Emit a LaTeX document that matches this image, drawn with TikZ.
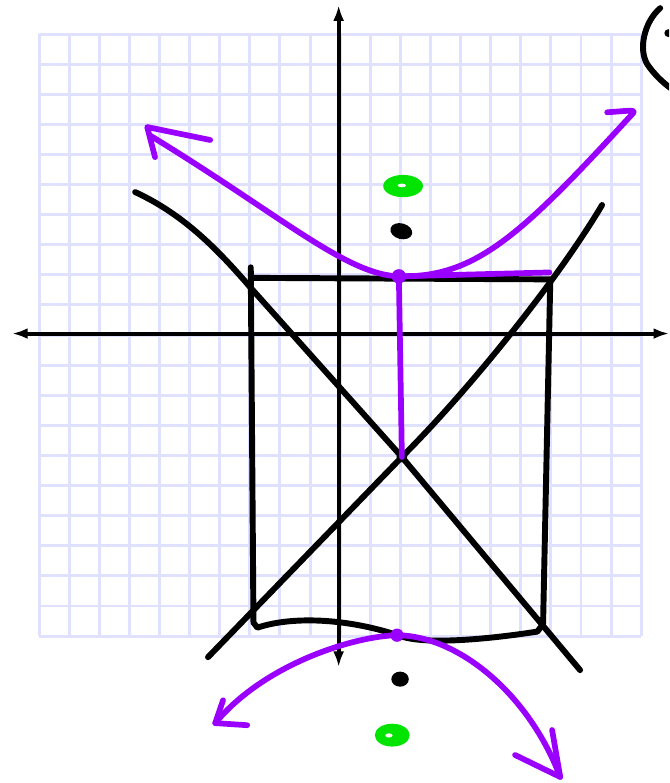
\documentclass[tikz,border=0pt]{standalone}
\usepackage{xcolor}
\usepackage{tikz}
\usetikzlibrary{arrows.meta}
\definecolor{gridlav}{RGB}{224,224,255}
\definecolor{branchviolet}{RGB}{153,0,255}
\definecolor{fociGreen}{RGB}{0,228,0}

\begin{document}
\begin{tikzpicture}[x=0.5cm, y=0.5cm, >=Latex,
  gridline/.style={gridlav, line width=1.4pt},
  axisline/.style={black, line width=1.9pt},
  ink/.style={black, line width=2.8pt, line cap=round, line join=round},
  branch/.style={branchviolet, line width=2.7pt, line cap=round, line join=round}]
\useasboundingbox (-11.30,-14.88) rectangle (10.93,11.13);
\clip (-11.30,-14.88) rectangle (10.93,11.13);
% --- Graph paper ---
\foreach \k in {-10,...,10} {
  \draw[gridline] (\k,-10) -- (\k,10);
  \draw[gridline] (-10,\k) -- (10,\k);
}
% --- Axes ---
\draw[axisline, {Latex[length=2.6mm,width=1.8mm]}-{Latex[length=2.6mm,width=1.8mm]}]
  (-10.90,0.05) -- (10.93,0.05);
\draw[axisline, {Latex[length=2.6mm,width=1.8mm]}-{Latex[length=2.6mm,width=1.8mm]}]
  (-0.05,-11.03) -- (-0.05,10.96);
% key points
\coordinate (ctr) at (2.05,-4.05);
\coordinate (vtop) at (1.95,1.95);
\coordinate (vbot) at (1.89,-9.97);
\coordinate (corner) at (6.95,2.08);
% --- Central box (hand drawn) ---
\draw[ink] (-2.97,2.25) -- (-2.88,-9.55) -- (-2.75,-9.72)
  .. controls (-1.5,-9.30) and (0.4,-9.45) .. (2.0,-10.0)
  .. controls (3.0,-10.35) and (5.6,-10.0) .. (6.55,-9.85)
  -- (6.74,-9.60) -- (6.98,1.85) -- (-2.97,1.90);
% --- Asymptotes ---
\draw[ink] (-6.81,4.75) .. controls (-5.3,4.05) and (-4.2,3.0) .. (-2.99,1.59)
  -- (ctr) -- (7.97,-11.13);
\draw[ink] (-4.39,-10.70) -- (ctr)
  .. controls (4.3,-1.80) and (7.2,1.80) .. (8.70,4.32);
\fill (ctr) circle (0.18);
% --- Upper branch ---
\draw[branch] (-6.30,6.62) .. controls (-2.0,4.0) and (0.2,2.0) .. (vtop)
  .. controls (4.5,1.9) and (6.0,3.3) .. (9.72,7.36)
  .. controls (9.85,7.50) and (9.60,7.45) .. (8.87,7.40);
\draw[branch] (-4.32,6.48) -- (-6.41,6.91) -- (-6.15,5.91);
\draw[branch] (vtop) -- (corner);
\draw[branch] (vtop) -- (ctr);
\fill[branchviolet] (vtop) circle (0.24);
% --- Lower branch ---
\draw[branch] (-4.15,-12.89) .. controls (-2.5,-10.9) and (0.5,-10.0) .. (vbot)
  .. controls (4.0,-10.0) and (6.3,-12.0) .. (7.31,-14.68);
\draw[branch] (-3.89,-12.13) -- (-4.15,-12.89) -- (-3.09,-12.96);
\draw[branch] (7.04,-13.12) -- (7.31,-14.68) -- (5.81,-13.95);
\fill[branchviolet] (vbot) circle (0.22);
% --- Foci and marks ---
\fill[black, rotate around={-15:(2.03,3.45)}] (2.03,3.45) ellipse (0.37 and 0.26);
\fill[black] (1.99,-11.43) ellipse (0.29 and 0.25);
\fill[fociGreen] (2.09,4.95) ellipse (0.66 and 0.37);
\fill[white] (2.05,4.97) ellipse (0.14 and 0.06);
\fill[fociGreen] (1.73,-13.29) ellipse (0.58 and 0.38);
\fill[white] (1.62,-13.30) ellipse (0.12 and 0.07);
% --- Label start, cut at the edge ---
\draw[ink] (10.63,10.86) .. controls (10.1,10.40) and (9.90,9.50) .. (10.20,9.00)
  .. controls (10.40,8.70) and (10.70,8.40) .. (10.98,8.20);
\fill (10.90,10.03) circle (0.13);
\end{tikzpicture}
\end{document}
